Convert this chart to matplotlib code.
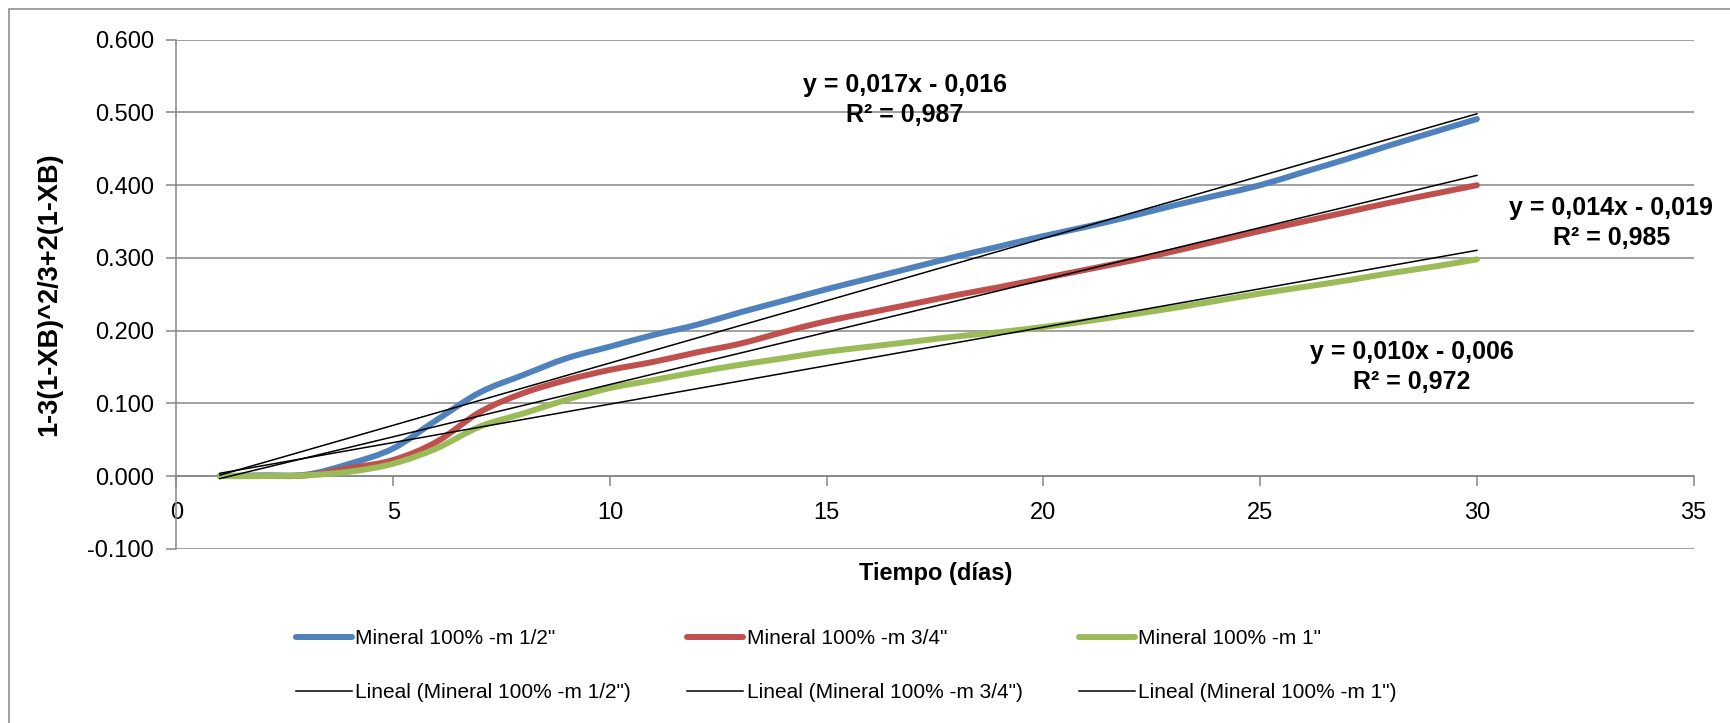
import numpy as np
import matplotlib
matplotlib.use("Agg")
import matplotlib.pyplot as plt
from matplotlib.patches import Rectangle, PathPatch
from matplotlib.path import Path
from matplotlib.lines import Line2D

plt.rcParams['font.family'] = ['Liberation Sans', 'DejaVu Sans']

# days
dias = np.arange(1, 31)

# 1-3(1-XB)^(2/3)+2(1-XB)
m_media = [0.000, 0.001, 0.002, 0.017, 0.038, 0.077, 0.115, 0.139, 0.162, 0.178,
           0.194, 0.208, 0.225, 0.241, 0.257, 0.272, 0.287, 0.302, 0.316, 0.330,
           0.343, 0.357, 0.372, 0.386, 0.400, 0.418, 0.436, 0.455, 0.473, 0.491]
m_3cuartos = [0.000, 0.000, 0.001, 0.011, 0.022, 0.047, 0.088, 0.114, 0.132, 0.146,
              0.157, 0.170, 0.182, 0.198, 0.213, 0.225, 0.237, 0.249, 0.260, 0.272,
              0.284, 0.296, 0.309, 0.323, 0.337, 0.350, 0.363, 0.376, 0.388, 0.400]
m_1 = [0.000, 0.000, 0.001, 0.006, 0.017, 0.038, 0.068, 0.086, 0.105, 0.121,
       0.132, 0.143, 0.153, 0.162, 0.171, 0.178, 0.185, 0.192, 0.198, 0.205,
       0.213, 0.222, 0.231, 0.241, 0.251, 0.260, 0.269, 0.279, 0.288, 0.298]

nombres = ['Mineral 100% -m 1/2"', 'Mineral 100% -m 3/4"', 'Mineral 100% -m 1"']
colores = ['#4F81BD', '#C0504D', '#9BBB59']
ecuaciones = ['y = 0,017x - 0,016\nR² = 0,987',
              'y = 0,014x - 0,019\nR² = 0,985',
              'y = 0,010x - 0,006\nR² = 0,972']
pos_ecuaciones = [(16.8, 0.517), (33.1, 0.348), (28.5, 0.150)]


def linea_suave(x, y):
    # Excel-style smoothed line: cubic Bezier through the points
    x = np.asarray(x, float)
    y = np.asarray(y, float)
    pts = np.column_stack([x, y])
    n = len(pts)
    verts = [pts[0]]
    codes = [Path.MOVETO]
    for i in range(n - 1):
        p0 = pts[max(i - 1, 0)]
        p1 = pts[i]
        p2 = pts[i + 1]
        p3 = pts[min(i + 2, n - 1)]
        verts += [p1 + (p2 - p0) / 6, p2 - (p3 - p1) / 6, p2]
        codes += [Path.CURVE4] * 3
    return Path(verts, codes)


fig = plt.figure(figsize=(17.3, 7.23), dpi=100)
ax = fig.add_axes([0.102, 0.241, 0.877, 0.704])

series = [m_media, m_3cuartos, m_1]
lineas = []
tendencias = []
for y, nombre, c in zip(series, nombres, colores):
    ax.add_patch(PathPatch(linea_suave(dias, y), fill=False, edgecolor=c, lw=4.3,
                           capstyle='round', joinstyle='round', zorder=3))
    lineas.append(Line2D([], [], color=c, lw=4.3, solid_capstyle='round', label=nombre))
for y, nombre in zip(series, nombres):
    p = np.polyfit(dias, y, 1)
    t, = ax.plot(dias, np.polyval(p, dias), color='black', lw=1.1,
                 label='Lineal (' + nombre + ')', zorder=4)
    tendencias.append(t)

for txt, (xt, yt) in zip(ecuaciones, pos_ecuaciones):
    ax.text(xt, yt, txt, ha='center', va='center', fontsize=18,
            fontweight='bold', linespacing=1.35)

ax.set_xlim(0, 35)
ax.set_ylim(-0.1, 0.6)
ax.set_xticks(np.arange(0, 36, 5))
ax.set_yticks(np.arange(-0.1, 0.61, 0.1))
ax.set_yticklabels(['%.3f' % v for v in np.arange(-0.1, 0.61, 0.1)])
ax.grid(axis='y', color='#868686', lw=1.1)
ax.set_axisbelow(True)
for s in ['top', 'right']:
    ax.spines[s].set_visible(False)
ax.spines['bottom'].set_position(('data', 0))
ax.spines['bottom'].set_color('#868686')
ax.spines['left'].set_color('#868686')
ax.spines['bottom'].set_linewidth(1.1)
ax.spines['left'].set_linewidth(1.1)
ax.tick_params(axis='both', colors='#868686', labelcolor='black', labelsize=17,
               length=7, width=1.1)
ax.tick_params(axis='x', pad=12)
ax.tick_params(axis='y', pad=9)

ax.set_ylabel('1-3(1-XB)^2/3+2(1-XB)', fontsize=19.5, fontweight='bold')
ax.yaxis.set_label_coords(-0.075, 0.5)
fig.text(0.541, 0.207, 'Tiempo (días)', ha='center', va='center',
         fontsize=17, fontweight='bold')

handles = []
for l, t in zip(lineas, tendencias):
    handles += [l, t]
fig.legend(handles=handles, labels=[h.get_label() for h in handles], ncol=3,
           loc='upper left', bbox_to_anchor=(0.171, 0.13), frameon=False,
           fontsize=15, handlelength=2.7, handletextpad=0.15, columnspacing=2.7,
           labelspacing=1.7, borderaxespad=0, borderpad=0)

fig.patches.append(Rectangle((0.0052, -0.1), 1.2, 1.1 - 9 / 723, transform=fig.transFigure,
                             fill=False, edgecolor='#868686', lw=1.1))

fig.savefig('out.png', dpi=100)
